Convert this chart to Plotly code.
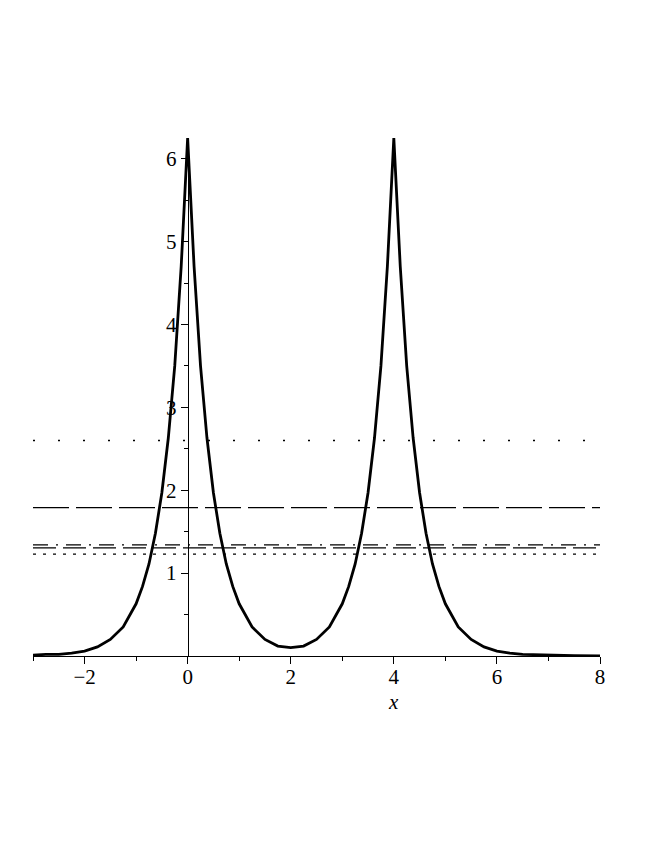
import plotly.graph_objects as go

# curve
curve_x = [-3, -2.75, -2.5, -2.25, -2, -1.75, -1.5, -1.25, -1, -0.875, -0.75,
           -0.625, -0.5, -0.375, -0.25, -0.125, 0, 0.125, 0.25, 0.375, 0.5,
           0.625, 0.75, 0.875, 1, 1.25, 1.5, 1.75, 2, 2.25, 2.5, 2.75, 3,
           3.125, 3.25, 3.375, 3.5, 3.625, 3.75, 3.875, 4, 4.125, 4.25, 4.375,
           4.5, 4.625, 4.75, 4.875, 5, 5.25, 5.5, 5.75, 6, 6.25, 6.5, 6.75,
           7, 7.5, 8]
curve_y = [0.01, 0.02, 0.02, 0.035, 0.06, 0.11, 0.2, 0.35, 0.63, 0.84, 1.11,
           1.48, 1.97, 2.63, 3.5, 4.7, 6.25, 4.7, 3.5, 2.63, 1.97,
           1.48, 1.11, 0.84, 0.63, 0.35, 0.2, 0.12, 0.1, 0.12, 0.2, 0.35, 0.63,
           0.84, 1.11, 1.48, 1.97, 2.63, 3.5, 4.7, 6.25, 4.7, 3.5, 2.63,
           1.97, 1.48, 1.11, 0.84, 0.63, 0.35, 0.2, 0.11, 0.06, 0.035, 0.02, 0.015,
           0.01, 0.005, 0.0]

# horizontal reference levels
level_values = [2.60, 1.79, 1.34, 1.305, 1.228]
level_dashes = ["2px,23px", "36px,7px", "15px,8px,2px,8px", "23px,7px", "3px,7px"]

x_range = [-3, 8]
y_range = [0, 6.25]
x_ticks = [-2, 0, 2, 4, 6, 8]
x_minor = [-3, -1, 1, 3, 5, 7]
y_ticks = [1, 2, 3, 4, 5, 6]
y_minor = [0.5, 1.5, 2.5, 3.5, 4.5, 5.5]

FONT = "Liberation Serif"

fig = go.Figure()
for v, d in zip(level_values, level_dashes):
    fig.add_trace(go.Scatter(x=x_range, y=[v, v], mode="lines",
                             line=dict(color="black", width=1.3, dash=d)))
fig.add_trace(go.Scatter(x=curve_x, y=curve_y, mode="lines",
                         line=dict(color="black", width=2.8)))

fig.update_layout(
    width=646, height=838,
    margin=dict(l=25, r=54, t=130, b=190),
    plot_bgcolor="white", paper_bgcolor="white",
    showlegend=False,
    font=dict(family=FONT, size=21, color="black"),
    xaxis=dict(range=x_range, showgrid=False, zeroline=False,
               showline=True, linecolor="black", linewidth=1,
               tickmode="array", tickvals=x_ticks, ticks="outside",
               ticklen=7, tickcolor="black", ticklabelstandoff=-5,
               minor=dict(tickmode="array", tickvals=x_minor, ticks="outside",
                          ticklen=4, tickcolor="black")),
    yaxis=dict(range=y_range, showgrid=False, zeroline=False,
               anchor="free", position=(0 - x_range[0]) / (x_range[1] - x_range[0]),
               showline=True, linecolor="black", linewidth=1,
               tickmode="array", tickvals=y_ticks, ticks="outside",
               ticklen=7, tickcolor="black",
               minor=dict(tickmode="array", tickvals=y_minor, ticks="outside",
                          ticklen=4, tickcolor="black")),
)
fig.add_annotation(text="<i>x</i>", x=4, xref="x", y=0, yref="paper",
                   yanchor="middle", yshift=-46, showarrow=False,
                   font=dict(family=FONT, size=21))

fig.write_html("out.html")
